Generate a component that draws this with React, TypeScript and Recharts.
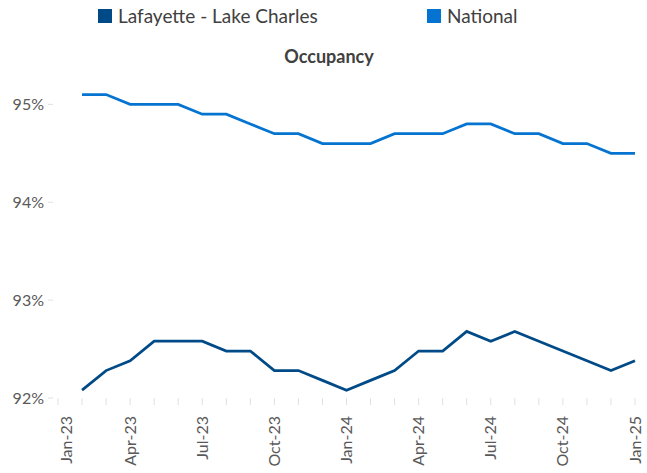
import { LineChart, Line, XAxis, YAxis } from 'recharts';

// monthly axis: Jan-23 slot is empty, data runs Feb-23 .. Jan-25
const months = [
  'Jan-23', 'Feb-23', 'Mar-23', 'Apr-23', 'May-23', 'Jun-23', 'Jul-23', 'Aug-23', 'Sep-23',
  'Oct-23', 'Nov-23', 'Dec-23', 'Jan-24', 'Feb-24', 'Mar-24', 'Apr-24', 'May-24', 'Jun-24',
  'Jul-24', 'Aug-24', 'Sep-24', 'Oct-24', 'Nov-24', 'Dec-24', 'Jan-25',
];

const lafayette = [
  null, 92.08, 92.28, 92.38, 92.58, 92.58, 92.58, 92.48, 92.48, 92.28, 92.28, 92.18, 92.08,
  92.18, 92.28, 92.48, 92.48, 92.68, 92.58, 92.68, 92.58, 92.48, 92.38, 92.28, 92.38,
];

const national = [
  null, 95.1, 95.1, 95.0, 95.0, 95.0, 94.9, 94.9, 94.8, 94.7, 94.7, 94.6, 94.6,
  94.6, 94.7, 94.7, 94.7, 94.8, 94.8, 94.7, 94.7, 94.6, 94.6, 94.5, 94.5,
];

const yTicks = [92, 93, 94, 95];

const LAF_COLOR = '#004b87';
const NAT_COLOR = '#0474d0';
const TEXT = '#595959';
const FONT = 'Lato, "Open Sans", sans-serif';

const data = months.map((m, i) => ({
  month: m,
  lafayette: lafayette[i],
  national: national[i],
}));

function MonthTick(props: any) {
  const { x, y, payload, index } = props;
  if (index % 3 !== 0) return null;
  const shift = index === 0 ? 8 : 0;
  return (
    <text
      x={x + shift}
      y={y}
      transform={`rotate(-90, ${x + shift}, ${y})`}
      textAnchor="end"
      dy="0.35em"
      fill={TEXT}
      fontSize={16}
      fontFamily={FONT}
    >
      {payload.value}
    </text>
  );
}

export default function App() {
  return (
    <div style={{ position: 'absolute', left: 0, top: 0, width: 647, height: 473, background: '#fff', fontFamily: FONT }}>
      <div style={{ position: 'absolute', left: 98, top: 9, width: 14, height: 14, background: LAF_COLOR }} />
      <div style={{ position: 'absolute', left: 118, top: 4, fontSize: 19, color: '#404040', lineHeight: '24px' }}>
        Lafayette - Lake Charles
      </div>
      <div style={{ position: 'absolute', left: 427, top: 9, width: 14, height: 14, background: NAT_COLOR }} />
      <div style={{ position: 'absolute', left: 447, top: 4, fontSize: 19, color: '#404040', lineHeight: '24px' }}>
        National
      </div>
      <div style={{ position: 'absolute', left: 0, width: 658, top: 44, textAlign: 'center', fontSize: 18, fontWeight: 700, color: '#404040', lineHeight: '24px' }}>
        Occupancy
      </div>
      <LineChart width={647} height={473} data={data} margin={{ top: 75, right: 7, bottom: 0, left: 0 }}>
        <XAxis
          dataKey="month"
          interval={0}
          axisLine={false}
          tickLine={{ stroke: '#e0e0e0' }}
          tickSize={7}
          tickMargin={11}
          height={75}
          padding={{ left: 5, right: 5 }}
          tick={<MonthTick />}
        />
        <YAxis
          domain={[92, 95.3]}
          ticks={yTicks}
          width={53}
          axisLine={false}
          tickLine={{ stroke: '#e0e0e0' }}
          tickSize={5}
          tickMargin={4}
          tick={{ fill: TEXT, fontSize: 16, fontFamily: FONT }}
          tickFormatter={(v: number) => `${v}%`}
        />
        <Line type="linear" dataKey="lafayette" stroke={LAF_COLOR} strokeWidth={2.75} dot={false} isAnimationActive={false} />
        <Line type="linear" dataKey="national" stroke={NAT_COLOR} strokeWidth={2.75} dot={false} isAnimationActive={false} />
      </LineChart>
    </div>
  );
}
